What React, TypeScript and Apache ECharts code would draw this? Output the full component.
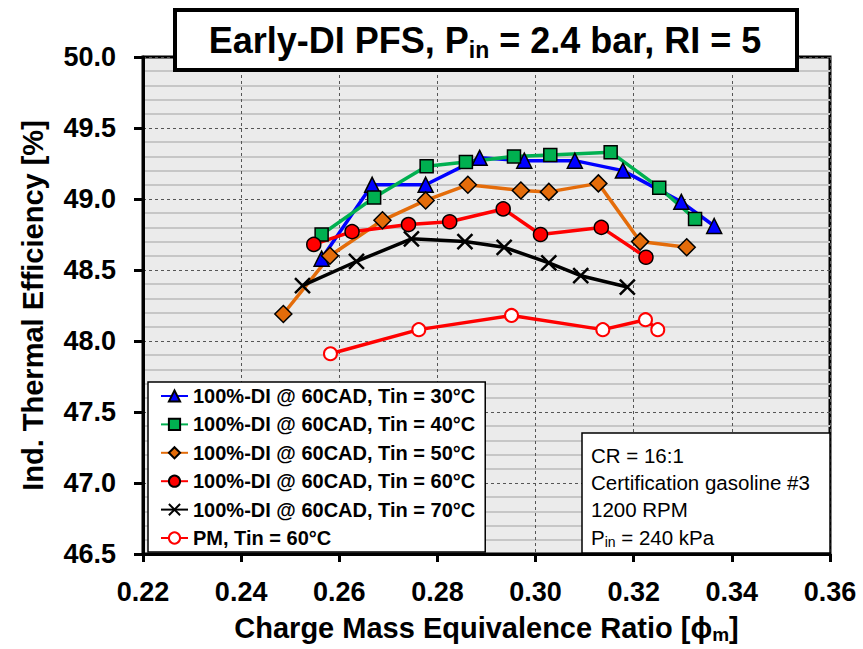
import React, { useEffect, useRef } from 'react';
import * as echarts from 'echarts';

const FONT = '"Liberation Sans", Arial, Helvetica, sans-serif';

// Series labels
const seriesNames = [
  '100%-DI @ 60CAD, Tin = 30°C',
  '100%-DI @ 60CAD, Tin = 40°C',
  '100%-DI @ 60CAD, Tin = 50°C',
  '100%-DI @ 60CAD, Tin = 60°C',
  '100%-DI @ 60CAD, Tin = 70°C',
  'PM, Tin = 60°C',
];

// Equivalence ratio (phi_m) and indicated thermal efficiency (%) per series
const phiT30 = [0.2564, 0.2667, 0.2776, 0.2886, 0.2977, 0.308, 0.3178, 0.3297, 0.3364];
const etaT30 = [48.58, 49.1, 49.1, 49.29, 49.27, 49.27, 49.2, 48.98, 48.81];

const phiT40 = [0.2564, 0.2671, 0.2778, 0.2858, 0.2956, 0.303, 0.3153, 0.3252, 0.3325];
const etaT40 = [48.75, 49.01, 49.23, 49.26, 49.3, 49.31, 49.33, 49.08, 48.86];

const phiT50 = [0.2486, 0.2581, 0.2688, 0.2776, 0.2862, 0.297, 0.3027, 0.3128, 0.3213, 0.3308];
const etaT50 = [48.19, 48.6, 48.85, 48.99, 49.1, 49.06, 49.05, 49.11, 48.7, 48.66];

const phiT60 = [0.2548, 0.2626, 0.2741, 0.2825, 0.2934, 0.301, 0.3134, 0.3225];
const etaT60 = [48.68, 48.77, 48.82, 48.84, 48.93, 48.75, 48.8, 48.59];

const phiT70 = [0.2525, 0.2635, 0.2747, 0.2856, 0.2936, 0.3027, 0.3092, 0.3187];
const etaT70 = [48.39, 48.56, 48.72, 48.7, 48.66, 48.55, 48.46, 48.38];

const phiPM = [0.2582, 0.2762, 0.2951, 0.3137, 0.3224, 0.3249];
const etaPM = [47.91, 48.08, 48.18, 48.08, 48.15, 48.08];

// Axis ranges
const xMin = 0.22;
const xMax = 0.36;
const xStep = 0.02;
const yMin = 46.5;
const yMax = 50.0;
const yStep = 0.5;

// Test conditions shown in the info box
const conditionLines = ['CR = 16:1', 'Certification gasoline #3', '1200 RPM'];

const pair = (xs: number[], ys: number[]) => xs.map((x, i) => [x, ys[i]]);

const CROSS = 'path://M0,0L10,10M10,0L0,10';

export default function App() {
  const ref = useRef<HTMLDivElement>(null);

  useEffect(() => {
    if (!ref.current) return;
    const chart = echarts.init(ref.current, undefined, { renderer: 'svg' });

    const lineSeries = (
      name: string,
      data: number[][],
      color: string,
      symbol: string,
      symbolSize: number,
      fill: string,
      border: string,
      borderWidth: number
    ) => ({
      name,
      type: 'line',
      data,
      symbol,
      symbolSize,
      lineStyle: { color, width: 3.5 },
      itemStyle: { color: fill, borderColor: border, borderWidth },
      emphasis: { disabled: true },
      z: 3,
    });

    chart.setOption({
      animation: false,
      backgroundColor: '#ffffff',
      grid: {
        left: 143,
        top: 57,
        width: 687,
        height: 501,
        show: true,
        backgroundColor: '#ebebeb',
        borderColor: '#000',
        borderWidth: 3,
      },
      xAxis: {
        type: 'value',
        min: xMin,
        max: xMax,
        interval: xStep,
        axisLine: { show: true, onZero: false, lineStyle: { color: '#000', width: 3 } },
        axisTick: { show: true, length: 8, lineStyle: { color: '#000', width: 3 } },
        axisLabel: {
          color: '#000',
          fontFamily: FONT,
          fontWeight: 'bold',
          fontSize: 27,
          margin: 24,
          formatter: (v: number) => v.toFixed(2),
        },
        splitLine: { show: true, lineStyle: { color: '#555', width: 1, type: [3, 3] } },
        name: '{t|Charge Mass Equivalence Ratio [}{p|ϕ}{s|m}{t|]}',
        nameLocation: 'middle',
        nameGap: 57,
        nameTextStyle: {
          rich: {
            t: { fontFamily: FONT, fontWeight: 'bold', fontSize: 29, color: '#000' },
            p: { fontFamily: FONT, fontWeight: 'bold', fontSize: 29, color: '#000' },
            s: { fontFamily: FONT, fontWeight: 'bold', fontSize: 19, color: '#000', padding: [14, 0, 0, 0] },
          },
        },
      },
      yAxis: {
        type: 'value',
        min: yMin,
        max: yMax,
        interval: yStep,
        axisLine: { show: true, onZero: false, lineStyle: { color: '#000', width: 3 } },
        axisTick: { show: true, length: 9, lineStyle: { color: '#000', width: 3 } },
        axisLabel: {
          color: '#000',
          fontFamily: FONT,
          fontWeight: 'bold',
          fontSize: 27,
          margin: 27,
          formatter: (v: number) => v.toFixed(1),
        },
        splitLine: { show: true, lineStyle: { color: '#555', width: 1, type: [3, 3] } },
        minorTick: { show: false, splitNumber: 5 },
        minorSplitLine: { show: true, lineStyle: { color: '#c6c6c6', width: 2 } },
        name: 'Ind. Thermal Efficiency [%]',
        nameLocation: 'middle',
        nameGap: 96,
        nameTextStyle: { fontFamily: FONT, fontWeight: 'bold', fontSize: 29, color: '#000' },
      },
      legend: {
        orient: 'vertical',
        left: 148,
        top: 382,
        backgroundColor: '#fff',
        borderColor: '#000',
        borderWidth: 1.5,
        borderRadius: 0,
        padding: [4, 10, 4, 12],
        itemWidth: 27,
        itemHeight: 14,
        itemGap: 8.4,
        selectedMode: false,
        textStyle: { fontFamily: FONT, fontWeight: 'bold', fontSize: 20, color: '#000' },
        data: seriesNames,
        z: 10,
      },
      graphic: [
        {
          type: 'rect',
          z: 100,
          shape: { x: 175, y: 10, width: 622, height: 60 },
          style: { fill: '#fff', stroke: '#000', lineWidth: 4 },
        },
        {
          type: 'text',
          z: 101,
          x: 485,
          y: 40,
          style: {
            text: '{b|Early-DI PFS, P}{s|in}{b| = 2.4 bar, RI = 5}',
            align: 'center',
            verticalAlign: 'middle',
            rich: {
              b: { fontFamily: FONT, fontWeight: 'bold', fontSize: 36, fill: '#000' },
              s: { fontFamily: FONT, fontWeight: 'bold', fontSize: 23, fill: '#000', padding: [20, 0, 0, 0] },
            },
          },
        },
        {
          type: 'rect',
          z: 100,
          shape: { x: 582, y: 433, width: 248, height: 120 },
          style: { fill: '#fff', stroke: '#000', lineWidth: 1.5 },
        },
        ...conditionLines.map((t, i) => ({
          type: 'text',
          z: 101,
          x: 591,
          y: 455 + i * 27,
          style: {
            text: t,
            fontFamily: FONT,
            fontSize: 20.5,
            fill: '#000',
            align: 'left',
            verticalAlign: 'middle',
          },
        })),
        {
          type: 'text',
          z: 101,
          x: 591,
          y: 537,
          style: {
            text: '{t|P}{s|in}{t| = 240 kPa}',
            align: 'left',
            verticalAlign: 'middle',
            rich: {
              t: { fontFamily: FONT, fontSize: 20.5, fill: '#000' },
              s: { fontFamily: FONT, fontSize: 14, fill: '#000', padding: [10, 0, 0, 0] },
            },
          },
        },
      ],
      series: [
        lineSeries(seriesNames[0], pair(phiT30, etaT30), '#0000ff', 'triangle', 15, '#0000ff', '#000', 1.5),
        lineSeries(seriesNames[1], pair(phiT40, etaT40), '#00b050', 'rect', 13, '#00b050', '#000', 1.5),
        lineSeries(seriesNames[2], pair(phiT50, etaT50), '#e46c0a', 'diamond', 17, '#e46c0a', '#000', 1.5),
        lineSeries(seriesNames[3], pair(phiT60, etaT60), '#ff0000', 'circle', 14, '#ff0000', '#000', 1.5),
        lineSeries(seriesNames[4], pair(phiT70, etaT70), '#000000', CROSS, 15, '#000', '#000', 2.5),
        lineSeries(seriesNames[5], pair(phiPM, etaPM), '#ff0000', 'circle', 13, '#ffffff', '#ff0000', 2),
      ],
    });

    return () => chart.dispose();
  }, []);

  return (
    <div
      ref={ref}
      style={{ position: 'absolute', left: 0, top: 0, width: 863, height: 649 }}
    />
  );
}
